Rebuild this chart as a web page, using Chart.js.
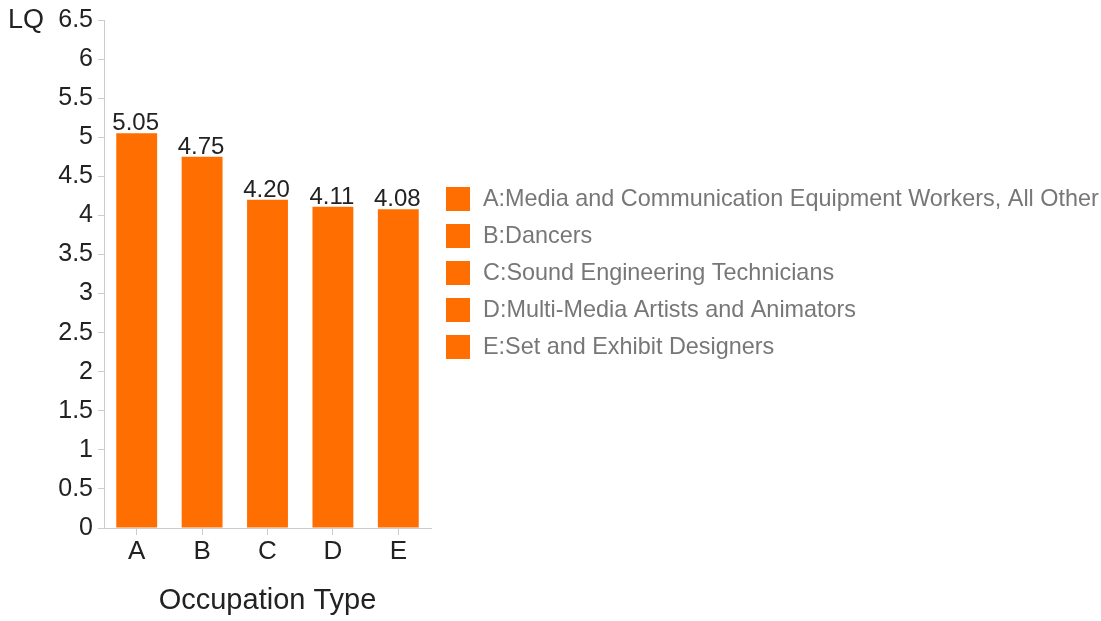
<!DOCTYPE html>
<html>
<head>
<meta charset="utf-8">
<script src="https://cdn.jsdelivr.net/npm/chart.js@4/dist/chart.umd.min.js"></script>
<style>
  html, body { margin: 0; padding: 0; background: #fff; }
  #wrap { width: 1101px; height: 621px; }
</style>
</head>
<body>
<div id="wrap"><canvas id="chart" width="1101" height="621"></canvas></div>
<script>
// Location quotient by occupation type
const categories = ['A', 'B', 'C', 'D', 'E'];
const occupationNames = [
  'Media and Communication Equipment Workers, All Other',
  'Dancers',
  'Sound Engineering Technicians',
  'Multi-Media Artists and Animators',
  'Set and Exhibit Designers'
];
const lqValues = [5.05, 4.75, 4.20, 4.11, 4.08];
const yTickLabels = ['0', '0.5', '1', '1.5', '2', '2.5', '3', '3.5', '4', '4.5', '5', '5.5', '6', '6.5'];

const BAR_COLOR = '#ff6e00';
const AXIS_COLOR = '#cccccc';
const TEXT_COLOR = '#222222';
const LEGEND_TEXT = '#777777';
const FONT = '"Liberation Sans", Arial, Helvetica, sans-serif';

// Value labels above bars, the "LQ" unit label and the side legend
const decorations = {
  id: 'decorations',
  afterDatasetsDraw(chart) {
    const ctx = chart.ctx;
    const meta = chart.getDatasetMeta(0);
    ctx.save();
    ctx.fillStyle = TEXT_COLOR;
    ctx.font = '24px ' + FONT;
    ctx.textAlign = 'center';
    ctx.textBaseline = 'alphabetic';
    meta.data.forEach((bar, i) => {
      ctx.fillText(lqValues[i].toFixed(2), bar.x - 1, bar.y - 3);
    });
    ctx.restore();
  },
  afterDraw(chart) {
    const ctx = chart.ctx;
    const area = chart.chartArea;
    const y = chart.scales.y;
    ctx.save();
    // unit label beside the top tick
    ctx.fillStyle = TEXT_COLOR;
    ctx.font = '27px ' + FONT;
    ctx.textAlign = 'left';
    ctx.textBaseline = 'middle';
    ctx.fillText('LQ', 8, y.getPixelForValue(y.max) + 1);

    // legend, one row per category
    const box = 24, rowGap = 37;
    const blockH = (categories.length - 1) * rowGap + box;
    const top = (area.top + area.bottom) / 2 - blockH / 2 - 1;
    const left = area.right + 15;
    ctx.font = '23.4px ' + FONT;
    categories.forEach((c, i) => {
      const ry = top + i * rowGap;
      ctx.fillStyle = BAR_COLOR;
      ctx.fillRect(left, ry, box, box);
      ctx.fillStyle = LEGEND_TEXT;
      ctx.fillText(c + ':' + occupationNames[i], left + box + 13, ry + box / 2 + 1);
    });
    ctx.restore();
  }
};

new Chart(document.getElementById('chart'), {
  type: 'bar',
  data: {
    labels: categories,
    datasets: [{
      data: lqValues,
      backgroundColor: BAR_COLOR,
      borderWidth: 0,
      categoryPercentage: 0.625,
      barPercentage: 1.0
    }]
  },
  options: {
    responsive: false,
    animation: false,
    events: [],
    layout: { padding: { left: 0, right: 670, top: 20, bottom: 0 } },
    plugins: {
      legend: { display: false },
      tooltip: { enabled: false },
      title: { display: false }
    },
    scales: {
      x: {
        grid: { display: true, offset: false, drawOnChartArea: false, drawTicks: true, tickLength: 7, color: AXIS_COLOR },
        border: { display: true, color: AXIS_COLOR, width: 1 },
        ticks: { color: TEXT_COLOR, font: { family: FONT, size: 26 }, padding: 1 },
        title: {
          display: true,
          text: 'Occupation Type',
          color: TEXT_COLOR,
          font: { family: FONT, size: 29 },
          padding: { top: 0, bottom: 3 }
        },
        afterFit(scale) { scale.height = 93; }
      },
      y: {
        min: 0,
        max: 6.5,
        grid: { display: true, drawOnChartArea: false, drawTicks: true, tickLength: 6, color: AXIS_COLOR },
        border: { display: true, color: AXIS_COLOR, width: 1 },
        ticks: {
          stepSize: 0.5,
          color: TEXT_COLOR,
          font: { family: FONT, size: 25 },
          padding: 5,
          callback: (v, i) => yTickLabels[i]
        },
        afterFit(scale) { scale.width = 104; }
      }
    }
  },
  plugins: [decorations]
});
</script>
</body>
</html>
